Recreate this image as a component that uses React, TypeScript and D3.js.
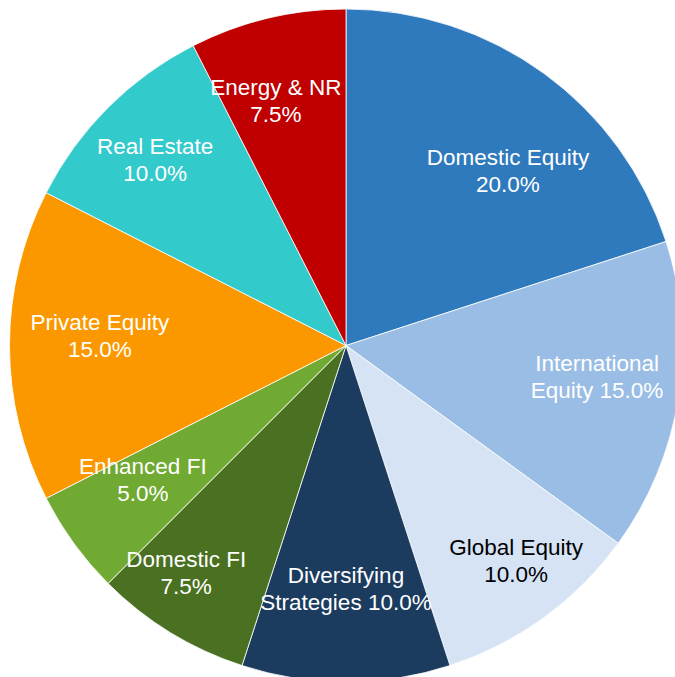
import * as d3 from 'd3';

const WIDTH = 675;
const HEIGHT = 677;

// slices, clockwise from 12 o'clock
const CATEGORIES = [
    'Domestic Equity',
    'International Equity',
    'Global Equity',
    'Diversifying Strategies',
    'Domestic FI',
    'Enhanced FI',
    'Private Equity',
    'Real Estate',
    'Energy & NR',
];
const VALUES = [20.0, 15.0, 10.0, 10.0, 7.5, 5.0, 15.0, 10.0, 7.5];
// how each label is broken into its first line (rest goes with the percent)
const LABEL_LINE1 = [
    'Domestic Equity',
    'International',
    'Global Equity',
    'Diversifying',
    'Domestic FI',
    'Enhanced FI',
    'Private Equity',
    'Real Estate',
    'Energy & NR',
];
const LABEL_LINE2_PREFIX = ['', 'Equity ', '', 'Strategies ', '', '', '', '', ''];
const COLORS = [
    '#2F79BD',
    '#99BDE4',
    '#D5E3F4',
    '#1B3C5F',
    '#4A7122',
    '#70AA32',
    '#FB9800',
    '#33CACC',
    '#C00000',
];
const TEXT_COLORS = ['#fff', '#fff', '#000', '#fff', '#fff', '#fff', '#fff', '#fff', '#fff'];

const CX = 346;
const CY = 345.5;
const RADIUS = 336.5;
const LINE_GAP = 13.5;
// "best fit" label placement: radius fraction and angle nudge (deg) per slice
const LABEL_R_FRAC = [0.707, 0.752, 0.816, 0.724, 0.826, 0.724, 0.732, 0.791, 0.756];
const LABEL_ANGLE_NUDGE = [6.9, -1.8, -2.3, 0, 3.6, 2.5, 2.2, -0.8, -2.5];

type Datum = { name: string; value: number; idx: number };

export default function App() {
    const data: Datum[] = CATEGORIES.map((name, idx) => ({ name, value: VALUES[idx], idx }));
    const pie = d3
        .pie<Datum>()
        .sort(null)
        .value((d) => d.value);
    const arcs = pie(data);
    const arc = d3.arc<d3.PieArcDatum<Datum>>().innerRadius(0).outerRadius(RADIUS);

    const labelPos = (a: d3.PieArcDatum<Datum>): [number, number] => {
        const i = a.data.idx;
        const mid = (a.startAngle + a.endAngle) / 2 + (LABEL_ANGLE_NUDGE[i] * Math.PI) / 180;
        const r = RADIUS * LABEL_R_FRAC[i];
        return [r * Math.sin(mid), -r * Math.cos(mid)];
    };

    return (
        <svg
            width={WIDTH}
            height={HEIGHT}
            style={{ position: 'absolute', left: 0, top: 0, background: '#fff' }}
        >
            <g transform={`translate(${CX},${CY})`}>
                {arcs.map((a) => (
                    <path key={a.data.name} d={arc(a) ?? ''} fill={COLORS[a.data.idx]} stroke="#fff" strokeWidth={0.8} />
                ))}
                {arcs.map((a) => {
                    const [x, y] = labelPos(a);
                    const i = a.data.idx;
                    return (
                        <text
                            key={`l-${a.data.name}`}
                            x={x}
                            y={y}
                            textAnchor="middle"
                            fill={TEXT_COLORS[i]}
                            style={{ fontFamily: '"Liberation Sans", Arial, sans-serif', fontSize: '22.5px' }}
                        >
                            <tspan x={x} y={y - LINE_GAP} dominantBaseline="central">
                                {LABEL_LINE1[i]}
                            </tspan>
                            <tspan x={x} y={y + LINE_GAP} dominantBaseline="central">
                                {`${LABEL_LINE2_PREFIX[i]}${a.data.value.toFixed(1)}%`}
                            </tspan>
                        </text>
                    );
                })}
            </g>
        </svg>
    );
}
